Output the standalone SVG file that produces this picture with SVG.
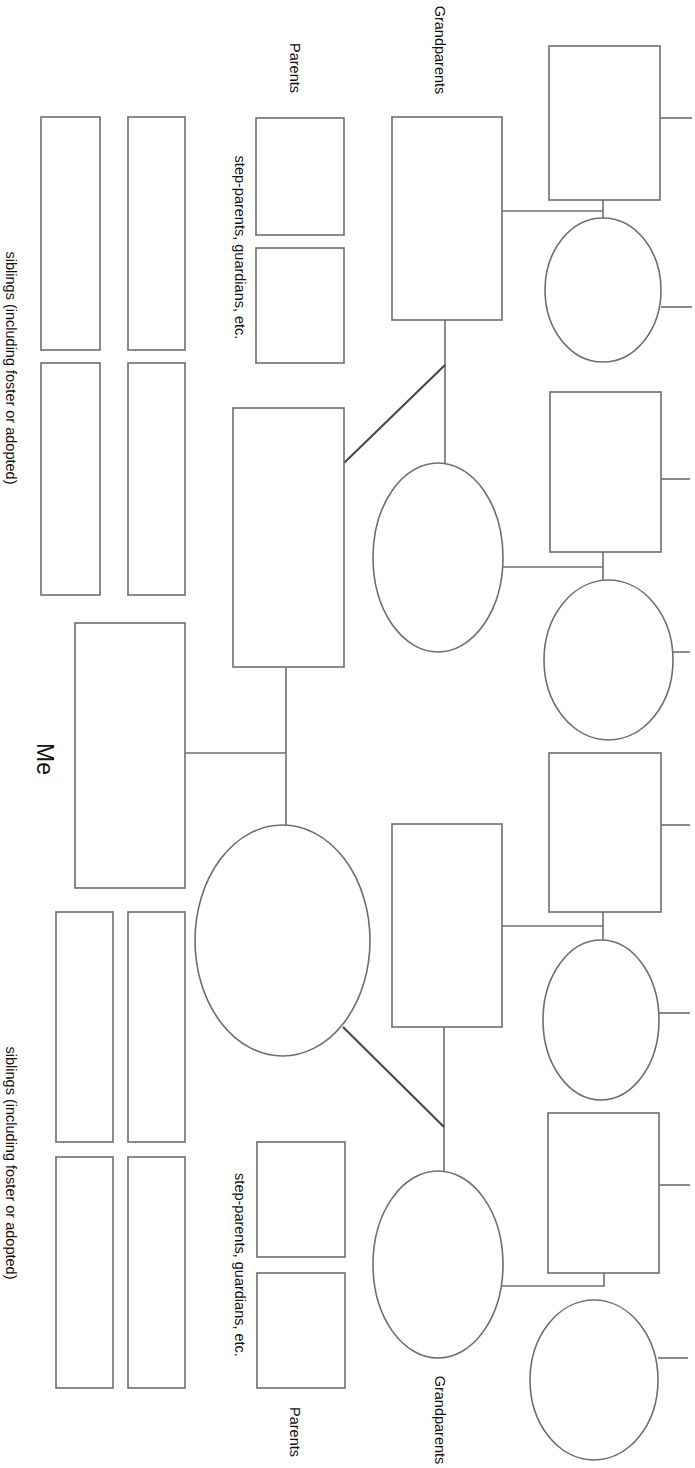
<svg xmlns="http://www.w3.org/2000/svg" width="695" height="1468" viewBox="0 0 695 1468">
<style>
.box{fill:#fff;stroke:#6e6e6e;stroke-width:1.6}
.conn{fill:none;stroke:#6e6e6e;stroke-width:1.6}
.diag{fill:none;stroke:#444;stroke-width:2}
.lbl{font-family:"Liberation Sans",Arial,sans-serif;font-size:14.5px;fill:#111;text-anchor:middle}
.me{font-family:"Liberation Sans",Arial,sans-serif;font-size:23px;fill:#111;text-anchor:middle}
</style>
<rect width="695" height="1468" fill="#fff"/>
<g id="connectors">
  <line class="conn" x1="660" y1="118" x2="692" y2="118"/>
  <line class="conn" x1="661" y1="307" x2="692" y2="307"/>
  <line class="conn" x1="661" y1="479" x2="690" y2="479"/>
  <line class="conn" x1="673" y1="652" x2="690" y2="652"/>
  <line class="conn" x1="661" y1="825" x2="690" y2="825"/>
  <line class="conn" x1="659" y1="1013" x2="690" y2="1013"/>
  <line class="conn" x1="659" y1="1185" x2="690" y2="1185"/>
  <line class="conn" x1="658" y1="1358" x2="688" y2="1358"/>
  <polyline class="conn" points="502,211 603,211"/>
  <line class="conn" x1="603" y1="200" x2="603" y2="218"/>
  <polyline class="conn" points="503,567 603,567"/>
  <line class="conn" x1="603" y1="552" x2="603" y2="581"/>
  <polyline class="conn" points="502,926 603,926"/>
  <line class="conn" x1="603" y1="912" x2="603" y2="940"/>
  <polyline class="conn" points="502,1286 604,1286 604,1255"/>
  <line class="conn" x1="445" y1="320" x2="445" y2="463" stroke="#999"/>
  <line class="diag" x1="445" y1="365" x2="344" y2="463"/>
  <line class="conn" x1="444" y1="1027" x2="444" y2="1171" stroke="#999"/>
  <line class="diag" x1="343" y1="1027" x2="444" y2="1127"/>
  <line class="conn" x1="286" y1="667" x2="286" y2="825"/>
  <line class="conn" x1="185" y1="753" x2="286" y2="753"/>
</g>
<g id="gg-rect-1"><rect class="box" x="549" y="46" width="111" height="154"/></g>
<g id="gg-oval-1"><ellipse class="box" cx="603" cy="290" rx="58" ry="72"/></g>
<g id="gg-rect-2"><rect class="box" x="550" y="392" width="111" height="160"/></g>
<g id="gg-oval-2"><ellipse class="box" cx="608.5" cy="660" rx="64.5" ry="80"/></g>
<g id="gg-rect-3"><rect class="box" x="549" y="753" width="112" height="159"/></g>
<g id="gg-oval-3"><ellipse class="box" cx="601" cy="1020" rx="58" ry="80"/></g>
<g id="gg-rect-4"><rect class="box" x="548" y="1113" width="111" height="160"/></g>
<g id="gg-oval-4"><ellipse class="box" cx="594" cy="1380" rx="64" ry="80"/></g>
<g id="gp-rect-1"><rect class="box" x="392" y="117" width="110" height="203"/></g>
<g id="gp-oval-1"><ellipse class="box" cx="438" cy="557.5" rx="65" ry="94.5"/></g>
<g id="gp-rect-2"><rect class="box" x="392" y="824" width="110" height="203"/></g>
<g id="gp-oval-2"><ellipse class="box" cx="438" cy="1264.5" rx="65" ry="93.5"/></g>
<g id="parent-rect"><rect class="box" x="233" y="408" width="111" height="259"/></g>
<g id="parent-oval"><ellipse class="box" cx="282.5" cy="940.5" rx="87.5" ry="115.5"/></g>
<g id="me"><rect class="box" x="75" y="623" width="110" height="265"/>
  <text class="me" transform="translate(37,759) rotate(90)">Me</text></g>
<g id="step-top">
  <rect class="box" x="256" y="118" width="88" height="117"/>
  <rect class="box" x="256" y="248" width="88" height="115"/>
</g>
<g id="step-bottom">
  <rect class="box" x="257" y="1142" width="88" height="115"/>
  <rect class="box" x="257" y="1273" width="88" height="115"/>
</g>
<g id="siblings-top">
  <rect class="box" x="41" y="117" width="59" height="233"/>
  <rect class="box" x="128" y="117" width="57" height="233"/>
  <rect class="box" x="41" y="363" width="59" height="232"/>
  <rect class="box" x="128" y="363" width="57" height="232"/>
</g>
<g id="siblings-bottom">
  <rect class="box" x="56" y="912" width="57" height="230"/>
  <rect class="box" x="128" y="912" width="57" height="230"/>
  <rect class="box" x="56" y="1157" width="57" height="231"/>
  <rect class="box" x="128" y="1157" width="57" height="231"/>
</g>
<g id="labels">
  <text class="lbl" transform="translate(435,50) rotate(90)">Grandparents</text>
  <text class="lbl" transform="translate(290,68) rotate(90)">Parents</text>
  <text class="lbl" transform="translate(235,247.5) rotate(90)">step-parents, guardians, etc.</text>
  <text class="lbl" transform="translate(6,368) rotate(90)">siblings (including foster or adopted)</text>
  <text class="lbl" transform="translate(6,1163) rotate(90)">siblings (including foster or adopted)</text>
  <text class="lbl" transform="translate(235,1265) rotate(90)">step-parents, guardians, etc.</text>
  <text class="lbl" transform="translate(290,1432) rotate(90)">Parents</text>
  <text class="lbl" transform="translate(435,1420) rotate(90)">Grandparents</text>
</g>
</svg>
